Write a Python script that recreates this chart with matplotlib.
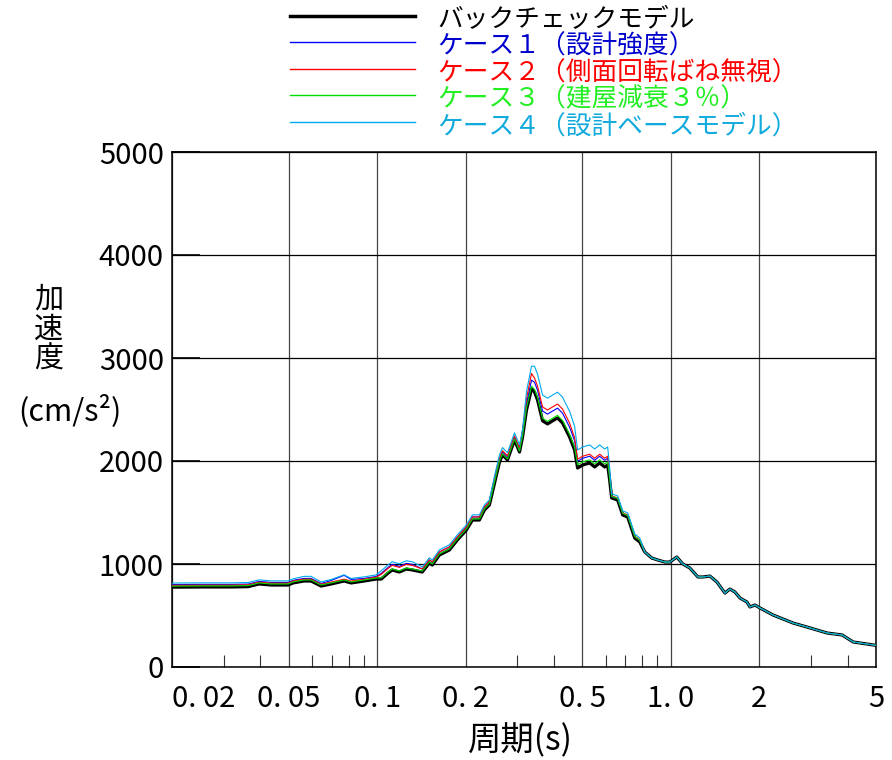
import matplotlib.pyplot as plt
from matplotlib.lines import Line2D
import numpy as np

plt.rcParams['font.family'] = ['Noto Sans CJK JP', 'DejaVu Sans']

# Periods where the five cases differ (s)
T_head = [0.020, 0.0257, 0.0318, 0.0363, 0.0396, 0.0435, 0.0497, 0.0517, 0.0563, 0.0595,
          0.0644, 0.0697, 0.0771, 0.0815, 0.0903, 0.0992,
          0.1032, 0.109, 0.1125, 0.1189, 0.1256, 0.1317,
          0.1424, 0.1505, 0.1541, 0.1628, 0.1761, 0.1875, 0.2013, 0.211, 0.2229, 0.2318, 0.2411,
          0.2507, 0.2609, 0.2671, 0.2778, 0.2935, 0.3053, 0.3126,
          0.3225, 0.3354,
          0.3434, 0.3517, 0.3658, 0.3804, 0.3956, 0.4114, 0.4279, 0.4521,
          0.4703,
          0.4815, 0.5008, 0.5291, 0.5504, 0.5724, 0.5953, 0.6095,
          0.6191,
          0.6289, 0.6593, 0.6858, 0.7132, 0.7536, 0.7838]

# Acceleration (cm/s2) per case over T_head
backcheck = [775, 777, 777, 780, 806, 796, 796, 816, 835, 835, 786, 806, 835, 816, 835, 854,
             854, 913, 942, 922, 951, 942,
             922, 1010, 990, 1087, 1136, 1233, 1330, 1427, 1427, 1524, 1573,
             1780, 1990, 2060, 2010, 2204, 2087, 2233,
             2495, 2700,
             2670, 2592, 2390, 2360, 2390, 2418, 2369, 2233,
             2107,
             1932, 1961, 1981, 1942, 1981, 1942, 1961,
             1816,
             1641, 1621, 1476, 1456, 1252, 1214]
case1 = [800, 802, 802, 805, 831, 821, 821, 841, 860, 860, 811, 840, 890, 850, 860, 879,
         909, 968, 997, 977, 1006, 997,
         952, 1040, 1020, 1117, 1166, 1263, 1360, 1457, 1457, 1554, 1603,
         1810, 2020, 2090, 2040, 2234, 2117, 2263,
         2555, 2785,
         2765, 2687, 2485, 2455, 2485, 2513, 2464, 2328,
         2197,
         1997, 2026, 2046, 2007, 2046, 2007, 2026,
         1866,
         1656, 1636, 1491, 1471, 1267, 1229]
case2 = [793, 795, 795, 798, 824, 814, 814, 834, 853, 853, 804, 824, 853, 834, 853, 872,
         899, 958, 987, 967, 996, 987,
         952, 1040, 1020, 1117, 1166, 1263, 1360, 1457, 1457, 1554, 1603,
         1820, 2030, 2100, 2050, 2244, 2127, 2273,
         2605, 2850,
         2805, 2727, 2525, 2495, 2525, 2553, 2504, 2368,
         2227,
         2017, 2046, 2066, 2027, 2066, 2027, 2046,
         1876,
         1661, 1641, 1496, 1476, 1272, 1234]
case3 = [785, 787, 787, 790, 816, 806, 806, 826, 845, 845, 796, 816, 845, 826, 845, 864,
         864, 923, 952, 932, 961, 952,
         932, 1020, 1000, 1097, 1146, 1243, 1340, 1437, 1437, 1534, 1583,
         1790, 2000, 2070, 2020, 2214, 2097, 2243,
         2515, 2725,
         2695, 2617, 2415, 2385, 2415, 2443, 2394, 2258,
         2132,
         1962, 1991, 2011, 1972, 2011, 1972, 1991,
         1836,
         1656, 1636, 1491, 1471, 1267, 1229]
case4 = [815, 817, 817, 820, 846, 836, 836, 856, 880, 880, 826, 850, 895, 860, 875, 894,
         934, 993, 1022, 1002, 1031, 1022,
         972, 1060, 1040, 1137, 1186, 1283, 1380, 1477, 1477, 1574, 1623,
         1850, 2060, 2130, 2080, 2274, 2157, 2303,
         2675, 2920,
         2920, 2842, 2640, 2610, 2640, 2668, 2619, 2483,
         2337,
         2107, 2136, 2156, 2117, 2156, 2117, 2136,
         1936,
         1681, 1661, 1516, 1496, 1292, 1254]

# Long-period part, same for all cases
T_tail = [0.8151, 0.8614, 0.9029, 0.9539, 0.9922, 1.048, 1.099, 1.161, 1.237, 1.286,
          1.359, 1.436, 1.529, 1.590, 1.654, 1.720, 1.817, 1.861, 1.935, 2.013,
          2.229, 2.609, 2.982, 3.408, 3.833, 4.18, 4.892, 5.0]
tail = [1117, 1058, 1039, 1019, 1019, 1068, 1000, 961, 874, 874,
        883, 825, 718, 757, 728, 670, 631, 583, 602, 573,
        505, 427, 379, 330, 311, 243, 214, 210]

names = ['バックチェックモデル', 'ケース１（設計強度）', 'ケース２（側面回転ばね無視）',
         'ケース３（建屋減衰３％）', 'ケース４（設計ベースモデル）']
line_colors = ['black', '#0000ff', '#ff0000', '#00dd00', '#00aaee']
text_colors = ['black', '#0000cc', '#ff0000', '#22ee22', '#11aadd']
widths = [2.3, 0.8, 0.8, 0.8, 0.8]

xticks = [0.02, 0.05, 0.1, 0.2, 0.5, 1.0, 2, 5]
xlabels = ['0. 02', '0. 05', '0. 1', '0. 2', '0. 5', '1. 0', '2', '5']

W, H = 892, 760
fig = plt.figure(figsize=(W / 100, H / 100), dpi=100)
ax = fig.add_axes([172 / W, 1 - 667 / H, (876 - 172) / W, (667 - 152) / H])

T = T_head + T_tail
for vals, c, lw in zip([backcheck, case1, case2, case3, case4], line_colors, widths):
    ax.plot(T, vals + tail, color=c, lw=lw, zorder=3)

ax.set_xscale('log')
ax.set_xlim(0.02, 5)
ax.set_ylim(0, 5000)
ax.set_xticks(xticks)
ax.set_xticklabels(xlabels, fontsize=21)
ax.get_xticklabels()[0].set_horizontalalignment('left')
ax.set_xticks([0.03, 0.04, 0.06, 0.07, 0.08, 0.09, 0.3, 0.4, 0.6, 0.7, 0.8, 0.9, 3, 4],
              minor=True)
ax.set_xticklabels([], minor=True)
ax.tick_params(axis='x', which='major', length=0, pad=12)
ax.tick_params(axis='x', which='minor', length=9, width=0.8, direction='in', color='#333333')
ax.set_yticks([0, 1000, 2000, 3000, 4000, 5000])
ax.tick_params(axis='y', which='major', length=20, width=1.2, direction='in', pad=6,
               labelsize=21)
ax.grid(True, which='major', axis='x', color='#444444', lw=0.9)
ax.grid(True, which='major', axis='y', color='black', lw=0.9)
for s in ax.spines.values():
    s.set_linewidth(1.1)
    s.set_color('black')

# y label, stacked characters
for i, ch in enumerate('加速度'):
    fig.text(49 / W, 1 - (300 + 30 * i) / H, ch, fontsize=21, ha='center', va='center')
fig.text(70 / W, 1 - 411 / H, '(cm/s²)', fontsize=22, ha='center', va='center')
fig.text(520 / W, 1 - 741 / H, '周期(s)', fontsize=24, ha='center', va='center')

# legend
for i, (nm, lc, tc, lw) in enumerate(zip(names, line_colors, text_colors, widths)):
    yl = 15.7 + 26.5 * i
    fig.add_artist(Line2D([290 / W, 415 / W], [1 - yl / H] * 2, transform=fig.transFigure,
                          color=lc, lw=lw + 0.2))
    fig.text(437 / W, 1 - (yl + 4.5) / H, nm, fontsize=18.5, color=tc, ha='left',
             va='center')

fig.savefig('out.png', dpi=100)
